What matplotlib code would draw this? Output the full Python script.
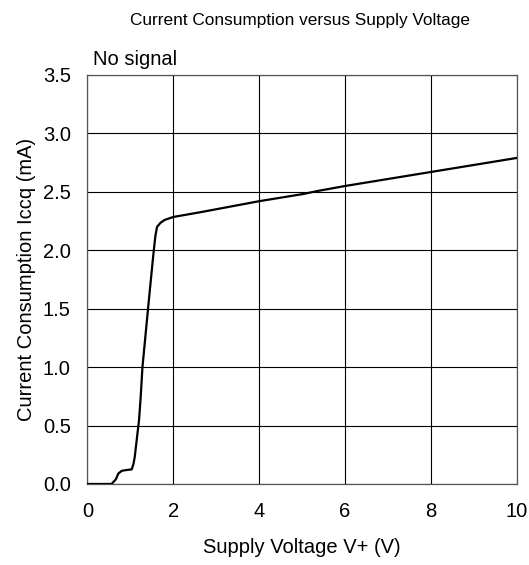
import matplotlib
matplotlib.use("Agg")
import matplotlib.pyplot as plt
from matplotlib import font_manager

# Supply voltage (V) vs quiescent current (mA)
voltage = [0.0, 0.56, 0.66, 0.72, 0.80, 0.92, 1.03, 1.07, 1.10, 1.16, 1.20,
           1.24, 1.28, 1.41, 1.53, 1.58, 1.62, 1.70, 1.80, 2.0, 2.62, 4.0,
           5.0, 5.4, 6.0, 7.0, 8.0, 9.0, 10.0]
current = [0.0, 0.0, 0.04, 0.09, 0.113, 0.12, 0.125, 0.17, 0.23, 0.42, 0.545,
           0.75, 1.0, 1.5, 1.95, 2.12, 2.20, 2.235, 2.26, 2.285, 2.325, 2.42,
           2.48, 2.51, 2.55, 2.61, 2.67, 2.73, 2.79]

x_ticks = [0, 2, 4, 6, 8, 10]
y_ticks = [0.0, 0.5, 1.0, 1.5, 2.0, 2.5, 3.0, 3.5]

names = {f.name for f in font_manager.fontManager.ttflist}
base_font = "Liberation Sans" if "Liberation Sans" in names else "DejaVu Sans"
plt.rcParams["font.family"] = base_font

fig = plt.figure(figsize=(5.29, 5.65), dpi=100)
ax = fig.add_axes([0.1654, 0.1434, 0.8116, 0.7239])

ax.plot(voltage, current, color="black", linewidth=1.6, zorder=3,
        solid_joinstyle="round")

ax.set_xlim(0, 10)
ax.set_ylim(0, 3.5)
ax.set_xticks(x_ticks)
ax.set_yticks(y_ticks)
ax.set_xticklabels([str(t) for t in x_ticks])
ax.set_yticklabels([f"{t:.1f}" for t in y_ticks])
ax.tick_params(length=0, labelsize=14.5)
ax.tick_params(axis="x", pad=13)
ax.tick_params(axis="y", pad=12)
ax.grid(True, color="black", linewidth=0.8)
for s in ax.spines.values():
    s.set_color("#555555")
    s.set_linewidth(0.9)

ax.set_xlabel("Supply Voltage V+ (V)", fontsize=14.5, labelpad=12)
ax.set_ylabel("Current Consumption Iccq (mA)", fontsize=14.5, labelpad=5)

fig.text(300 / 529, 1 - 20 / 565, "Current Consumption versus Supply Voltage",
         ha="center", va="center", fontsize=12.4)
ax.text(0.013, 1.024, "No signal", transform=ax.transAxes, ha="left",
        va="baseline", fontsize=14.5)

fig.savefig("out.png", dpi=100)
